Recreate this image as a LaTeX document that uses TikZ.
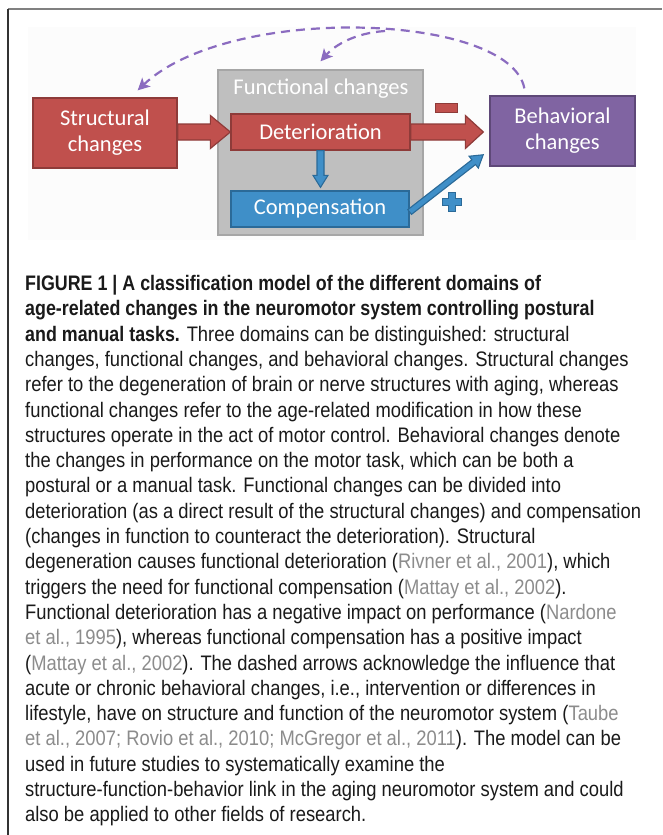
\documentclass[tikz,border=0pt]{standalone}
\usepackage{fontspec}
\setmainfont{Carlito}
\newfontfamily\capfont[FakeStretch=0.875,BoldFeatures={FakeStretch=0.85}]{Liberation Sans}
\usetikzlibrary{calc,arrows.meta}
\definecolor{redF}{HTML}{C0504D}
\definecolor{redD}{HTML}{8E3B39}
\definecolor{bluF}{HTML}{3F8FC8}
\definecolor{bluD}{HTML}{2B6A98}
\definecolor{purF}{HTML}{8064A2}
\definecolor{purD}{HTML}{5E4878}
\definecolor{greyF}{HTML}{BFBFBF}
\definecolor{greyD}{HTML}{A6A6A6}
\definecolor{dashC}{HTML}{8B6CC0}
\definecolor{citeC}{HTML}{8C8C8C}
\definecolor{txtC}{HTML}{1A1A1A}
\newcommand\ct[1]{\textcolor{citeC}{#1}}
% block arrow: #1 style, #2 from, #3 to, #4 shaft half width, #5 head half width, #6 head length
\newcommand\blockarr[6]{%
  \path let \p1=(#2), \p2=(#3), \n1={atan2(\y2-\y1,\x2-\x1)}, \n2={veclen(\x2-\x1,\y2-\y1)} in
    \pgfextra{\pgfmathsetmacro\tmpA{\n1}\pgfmathsetmacro\tmpL{\n2}\xdef\baAng{\tmpA}\xdef\baLen{\tmpL}};
  \begin{scope}[shift={(#2)}, rotate=\baAng]
    \draw[#1] (0,-#4) -- ({\baLen-#6},-#4) -- ({\baLen-#6},-#5) -- ({\baLen},0)
      -- ({\baLen-#6},#5) -- ({\baLen-#6},#4) -- (0,#4) -- cycle;
  \end{scope}}
\tikzset{
  box/.style={minimum width=#1, inner sep=0pt, line width=1.3pt, text=white,
    align=center, font=\fontsize{22.5}{26}\selectfont},
  redbox/.style={box=#1, fill=redF, draw=redD},
  blubox/.style={box=#1, fill=bluF, draw=bluD},
  purbox/.style={box=#1, fill=purF, draw=purD},
  redarr/.style={fill=redF, draw=redD, line width=1.2pt, line join=miter},
  bluarr/.style={fill=bluF, draw=bluD, line width=1.1pt, line join=miter},
  dasharr/.style={draw=dashC, line width=2.2pt, dash pattern=on 9pt off 6pt,
    -{Stealth[length=12pt,width=12pt,inset=3pt]}},
  capl/.style={anchor=base west, inner sep=0pt, text=txtC,
    font=\capfont\fontsize{21}{25}\selectfont},
}
\begin{document}
\begin{tikzpicture}[x=1pt,y=-1pt]
\useasboundingbox (0,0) rectangle (662,835);
\fill[white] (0,0) rectangle (662,835);
% frame
\draw[line width=2pt, draw=black!50] (8,9) -- (662,9);
\draw[line width=1.5pt, draw=black!80] (8,9) -- (8,835);
% faint figure background
\fill[black!1.2] (28,27) rectangle (636,240);
% nodes
\node[redbox=144pt, minimum height=70pt] (str) at (105,133) {Structural\\changes};
\node[fill=greyF, draw=greyD, line width=1.3pt, minimum width=205pt, minimum height=165pt, inner sep=0pt] (fun) at (320.5,152.5) {};
\node[text=white, font=\fontsize{22.5}{26}\selectfont, inner sep=0pt] (funlab) at (321,89) {Functional changes};
\node[redbox=179pt, minimum height=36pt] (det) at (320.5,132) {Deterioration};
\node[blubox=178pt, minimum height=36pt] (cmp) at (320,209) {Compensation};
\node[purbox=145pt, minimum height=70pt] (beh) at (562.5,131) {Behavioral\\changes};
% block arrows
\blockarr{redarr}{str.east |- det.west}{det.west}{8}{16.5}{20}
\blockarr{redarr}{det.east}{$(det.east-|beh.west)+(-6,0)$}{8}{16.5}{18}
\blockarr{bluarr}{det.south}{$(det.south|-cmp.north)+(0,-3)$}{3.5}{7.5}{12}
\blockarr{bluarr}{$(cmp.east)+(0,3)$}{$(beh.south west)+(-6,-12)$}{3}{7.5}{12}
% signs
\node[fill=redF, draw=redD, line width=1pt, minimum width=22pt, minimum height=9pt, inner sep=0pt] (minus) at (446,107.5) {};
\coordinate (plusC) at (452,202);
\draw[fill=bluF, draw=bluD, line width=1pt] ($(plusC)+(-3.5,-9.5)$) -- ++(7,0) -- ++(0,6) -- ++(6,0) -- ++(0,7) -- ++(-6,0) -- ++(0,6) -- ++(-7,0) -- ++(0,-6) -- ++(-6,0) -- ++(0,-7) -- ++(6,0) -- cycle;
% dashed feedback arrows
\coordinate (branch) at (385,31);
\draw[dasharr] ($(beh.north west)+(35,-7)$) .. controls (510,13) and (230,3) .. ($(str.north east)+(-40,-7)$);
\draw[dasharr] (branch) .. controls (355,33) and (335,45) .. ($(fun.north)+(0,-8)$);
% caption
\node[capl] (c1) at (25,290.5) {\textbf{FIGURE 1 | A classification model of the different domains of}};
\node[capl] (c2) at (25,315.8) {\textbf{age-related changes in the neuromotor system controlling postural}};
\node[capl] (c3) at (25,341.1) {\textbf{and manual tasks.} Three domains can be distinguished: structural};
\node[capl] (c4) at (25,366.4) {changes, functional changes, and behavioral changes. Structural changes};
\node[capl] (c5) at (25,391.7) {refer to the degeneration of brain or nerve structures with aging, whereas};
\node[capl] (c6) at (25,417.0) {functional changes refer to the age-related modification in how these};
\node[capl] (c7) at (25,442.3) {structures operate in the act of motor control. Behavioral changes denote};
\node[capl] (c8) at (25,467.6) {the changes in performance on the motor task, which can be both a};
\node[capl] (c9) at (25,492.9) {postural or a manual task. Functional changes can be divided into};
\node[capl] (c10) at (25,518.2) {deterioration (as a direct result of the structural changes) and compensation};
\node[capl] (c11) at (25,543.5) {(changes in function to counteract the deterioration). Structural};
\node[capl] (c12) at (25,568.8) {degeneration causes functional deterioration (\ct{Rivner et al., 2001}), which};
\node[capl] (c13) at (25,594.1) {triggers the need for functional compensation (\ct{Mattay et al., 2002}).};
\node[capl] (c14) at (25,619.4) {Functional deterioration has a negative impact on performance (\ct{Nardone}};
\node[capl] (c15) at (25,644.7) {\ct{et al., 1995}), whereas functional compensation has a positive impact};
\node[capl] (c16) at (25,670.0) {(\ct{Mattay et al., 2002}). The dashed arrows acknowledge the influence that};
\node[capl] (c17) at (25,695.3) {acute or chronic behavioral changes, i.e., intervention or differences in};
\node[capl] (c18) at (25,720.6) {lifestyle, have on structure and function of the neuromotor system (\ct{Taube}};
\node[capl] (c19) at (25,745.9) {\ct{et al., 2007; Rovio et al., 2010; McGregor et al., 2011}). The model can be};
\node[capl] (c20) at (25,771.2) {used in future studies to systematically examine the};
\node[capl] (c21) at (25,796.5) {structure-function-behavior link in the aging neuromotor system and could};
\node[capl] (c22) at (25,821.8) {also be applied to other fields of research.};
\end{tikzpicture}
\end{document}
